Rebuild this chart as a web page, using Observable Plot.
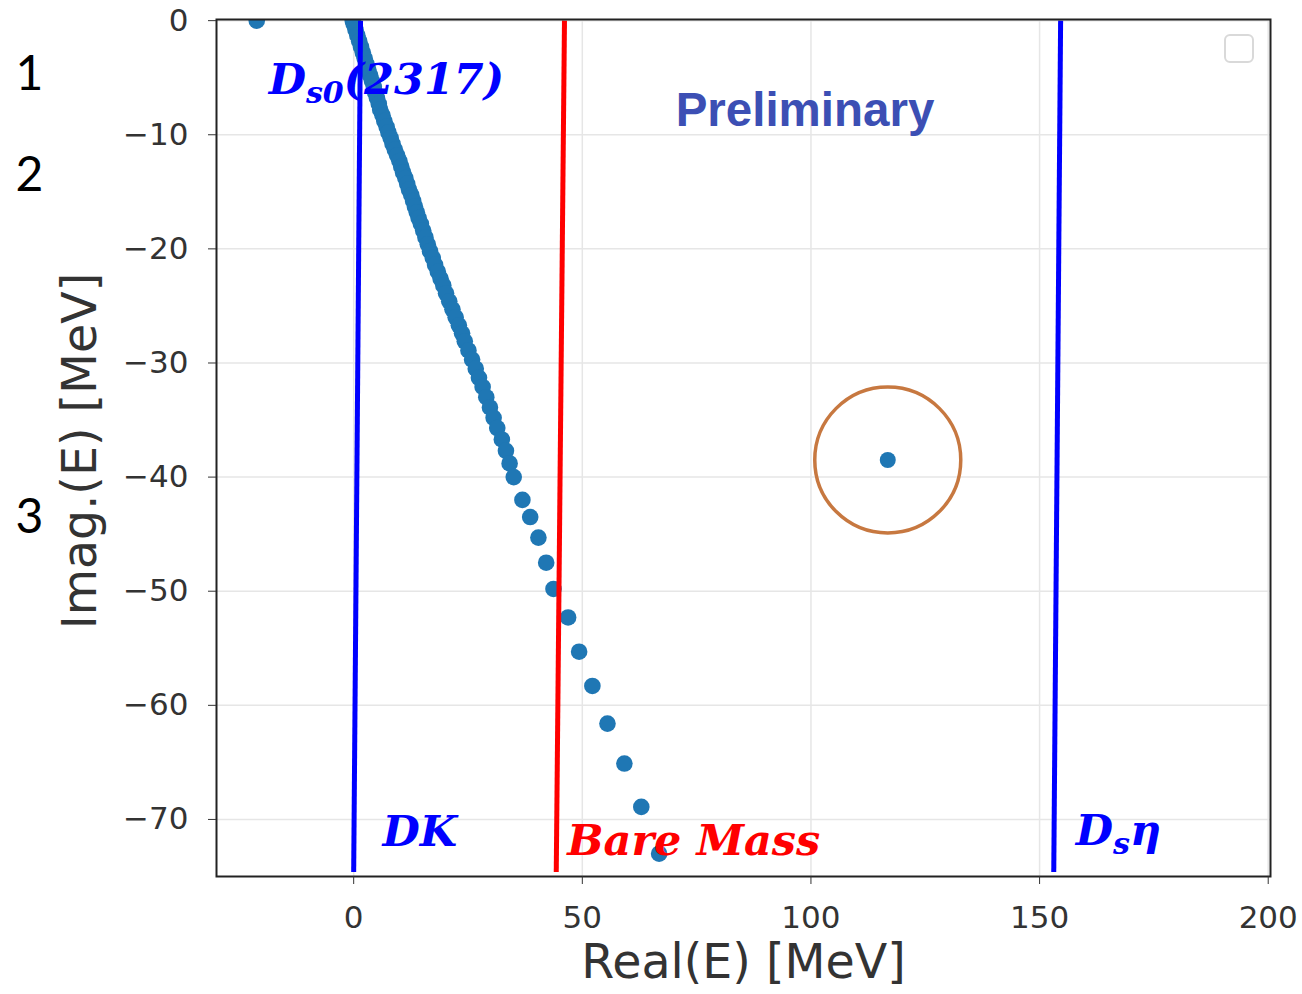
<!DOCTYPE html>
<html><head><meta charset="utf-8">
<script src="https://cdn.jsdelivr.net/npm/d3@7"></script>
<script src="https://cdn.jsdelivr.net/npm/@observablehq/plot@0.6"></script>
<style>html,body{margin:0;padding:0;background:#fff;} #chart{width:1302px;height:994px;}</style>
</head><body><div id="chart"></div>
<script>
// Pole trajectory (Real, Imag) in MeV
const realE = [-21.2, -0.2, 0.0, 0.4, 0.8, 1.2, 1.6, 2.0, 2.4, 2.8, 3.2, 3.6, 4.0, 4.4, 4.7, 5.1, 5.5, 5.8, 6.3, 6.7, 7.2, 7.6, 8.1, 8.5, 9.0, 9.5, 10.0, 10.4, 10.8, 11.3, 11.7, 12.1, 12.6, 13.0, 13.4, 13.8, 14.2, 14.7, 15.2, 15.7, 16.2, 16.7, 17.3, 17.8, 18.4, 19.0, 19.6, 20.2, 20.9, 21.6, 22.3, 23.0, 23.7, 24.3, 25.1, 25.9, 26.7, 27.4, 28.2, 29.0, 29.8, 30.6, 31.4, 32.4, 33.3, 34.1, 35.0, 36.9, 38.6, 40.4, 42.1, 43.7, 46.9, 49.3, 52.2, 55.5, 59.2, 62.9, 66.8];
const imagE = [0, 0, -0.3, -0.8, -1.3, -1.8, -2.3, -2.8, -3.3, -3.8, -4.3, -4.8, -5.3, -5.8, -6.3, -6.8, -7.3, -7.8, -8.3, -8.8, -9.3, -9.8, -10.3, -10.8, -11.3, -11.8, -12.3, -12.8, -13.3, -13.8, -14.3, -14.8, -15.3, -15.8, -16.3, -16.8, -17.3, -17.8, -18.4, -19.0, -19.6, -20.2, -20.8, -21.4, -22.0, -22.6, -23.2, -23.9, -24.6, -25.3, -26.0, -26.7, -27.4, -28.1, -28.9, -29.7, -30.5, -31.3, -32.1, -33.0, -33.9, -34.8, -35.7, -36.7, -37.7, -38.8, -40.0, -42.0, -43.5, -45.3, -47.5, -49.8, -52.3, -55.3, -58.3, -61.6, -65.1, -68.9, -73.0];

// Isolated resonance pole (circled)
const resReal = [116.8];
const resImag = [-38.5];

// Threshold / bare-mass lines (hand-drawn, slightly tilted)
const lineNames = ["DK", "Bare Mass", "Dsη"];
const lineRealBottom = [0, 44.3, 153.1];
const lineRealTop = [1.5, 46.1, 154.6];
const lineImagBottom = [-74.6, -74.6, -74.6];
const lineImagTop = [0, 0, 0];
const lineColors = ["#0000ff", "#ff0000", "#0000ff"];

// Math-style labels
const labelMain = ["D", "DK", "Bare Mass", "D"];
const labelSub = ["s0", "", "", "s"];
const labelRest = ["(2317)", "", "", "η"];
const labelReal = [-18.6, 6.3, 46.7, 157.9];
const labelImag = [-6.4, -72.3, -73.1, -72.2];
const labelColors = ["#0000ff", "#0000ff", "#ff0000", "#0000ff"];

// Side numbers
const sideNumbers = ["1", "2", "3"];
const sideNumberImag = [-6.1, -14.9, -44.9];

const xTicks = [0, 50, 100, 150, 200];
const yTicks = [0, -10, -20, -30, -40, -50, -60, -70];

const points = realE.map((r, i) => ({re: r, im: imagE[i]}));
const resPoints = resReal.map((r, i) => ({re: r, im: resImag[i]}));
const lines = lineNames.map((n, i) => ({name: n, x1: lineRealBottom[i], x2: lineRealTop[i], y1: lineImagBottom[i], y2: lineImagTop[i], color: lineColors[i]}));
const labels = labelMain.map((m, i) => ({main: m, sub: labelSub[i], rest: labelRest[i], re: labelReal[i], im: labelImag[i], color: labelColors[i]}));
const sides = sideNumbers.map((s, i) => ({t: s, im: sideNumberImag[i]}));

const svg = Plot.plot({
  width: 1302, height: 994,
  marginLeft: 216, marginRight: 32, marginTop: 19, marginBottom: 118,
  style: {fontFamily: "DejaVu Sans", background: "#fff"},
  x: {domain: [-30, 200.5], label: null},
  y: {domain: [-75, 0.1], label: null},
  color: {type: "identity"},
  marks: [
    Plot.gridX(xTicks, {stroke: "#e6e6e6", strokeOpacity: 1, strokeWidth: 1.5}),
    Plot.gridY(yTicks, {stroke: "#e6e6e6", strokeOpacity: 1, strokeWidth: 1.5}),
    Plot.dot(points, {x: "re", y: "im", r: 8.3, fill: "#1f77b4", stroke: "none", clip: true}),
    Plot.dot(resPoints, {x: "re", y: "im", r: 8, fill: "#1f77b4", stroke: "none"}),
    Plot.dot(resPoints, {x: "re", y: "im", r: 73, fill: "none", stroke: "#c77840", strokeWidth: 3.5}),
    Plot.link(lines, {x1: "x1", y1: "y1", x2: "x2", y2: "y2", stroke: "color", strokeWidth: 5}),
    Plot.frame({stroke: "#222", strokeWidth: 2}),
    Plot.axisX({ticks: xTicks, tickSize: 8, tickPadding: 21, fontSize: 31, color: "#333", label: null}),
    Plot.axisY({ticks: yTicks, tickSize: 8, tickPadding: 20, fontSize: 31, color: "#333", label: null}),
    Plot.text(["Real(E) [MeV]"], {frameAnchor: "bottom", dy: 101, lineAnchor: "bottom", textAnchor: "middle", fontSize: 47.5, fill: "#333"}),
    Plot.text(["Imag.(E) [MeV]"], {frameAnchor: "left", rotate: -90, dx: -121, dy: 3, lineAnchor: "bottom", textAnchor: "middle", fontSize: 47.5, fill: "#333"}),
    Plot.text(["Preliminary"], {x: [98.7], y: [-9.2], text: d => d, lineAnchor: "bottom", textAnchor: "middle", fontSize: 47.5, fontWeight: "bold", fontFamily: "Liberation Sans", fill: "#3c4fb4"}),
    Plot.text(labels, {x: "re", y: "im", text: d => d.main + d.sub + d.rest, fill: "color", lineAnchor: "bottom", textAnchor: "start", fontSize: 43, fontWeight: "bold", fontStyle: "italic", fontFamily: "DejaVu Serif"}),
    Plot.text(sides, {y: "im", text: "t", frameAnchor: "left", dx: -201, textAnchor: "start", lineAnchor: "bottom", fontSize: 48, fontFamily: "Lato", fill: "#000"})
  ]
});

// Rebuild math labels with subscripts
d3.select(svg).selectAll("text").each(function() {
  const txt = this.textContent;
  const d = labels.find(l => l.sub && (l.main + l.sub + l.rest) === txt);
  if (!d) return;
  const t = d3.select(this);
  t.text(null);
  t.append("tspan").text(d.main);
  t.append("tspan").attr("font-size", 30).attr("dy", 9).text(d.sub);
  t.append("tspan").attr("dy", -9).text(d.rest);
});

// Empty legend box (upper right)
d3.select(svg).append("rect")
  .attr("x", 1225).attr("y", 35).attr("width", 28).attr("height", 27).attr("rx", 5)
  .attr("fill", "none").attr("stroke", "#d9d9d9").attr("stroke-width", 2);

document.getElementById("chart").appendChild(svg);
</script></body></html>
